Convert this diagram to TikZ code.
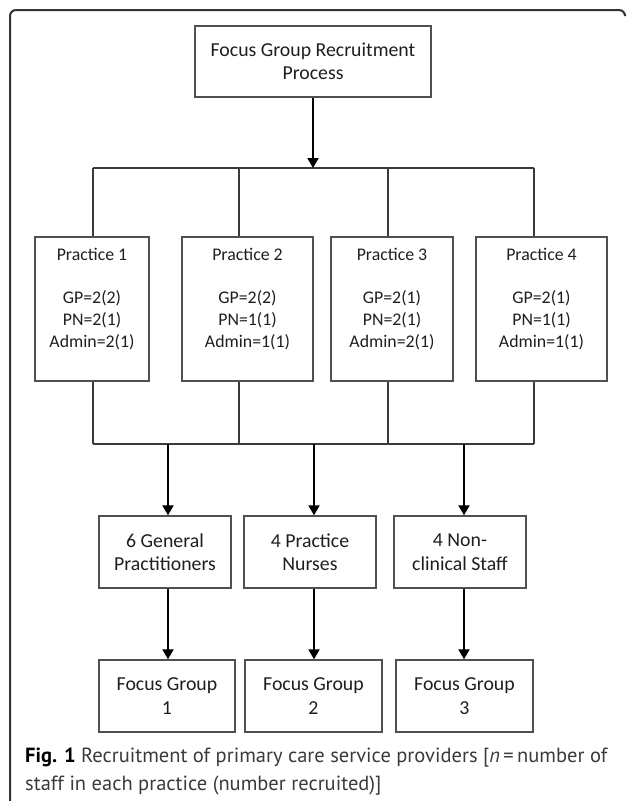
\documentclass[tikz,border=0pt]{standalone}
\usepackage{fontspec}
\setmainfont{Carlito}
\newfontfamily\capfont{PT Sans}
\usetikzlibrary{arrows.meta}
\definecolor{boxline}{HTML}{505050}
\definecolor{busline}{HTML}{3a3a3a}
\definecolor{txt}{HTML}{1e1e1e}
\definecolor{framec}{HTML}{333333}
\definecolor{captxt}{HTML}{3a3a3a}
\begin{document}
\begin{tikzpicture}[x=1pt,y=-1pt,
  box/.style={draw=boxline, line width=1.4pt, inner sep=0pt, align=center, text=txt},
  bigtxt/.style={font=\fontsize{19.8}{23.5}\selectfont},
  prtxt/.style={font=\fontsize{17.8}{21.7}\selectfont, align=center, text=txt, inner sep=0pt},
  bus/.style={draw=busline, line width=1.3pt},
  arr/.style={draw=black, line width=2pt, -{Triangle[length=10pt,width=11pt]}},
  capstyle/.style={font=\capfont\fontsize{20.5}{24}\selectfont, text=captxt, inner sep=0pt, anchor=west}]
\useasboundingbox (0,0) rectangle (627,801);
% frame
\draw[framec, line width=2pt, rounded corners=6pt] (10,805) -- (10,10) -- (625,10) -- (625,14);
% top box
\node[box, bigtxt, minimum width=236pt, minimum height=71pt] (top) at (313,61.5) {Focus Group Recruitment\\Process};
% practice boxes
\node[box, minimum width=114pt, minimum height=144pt] (P1) at (92,309) {};
\node[box, minimum width=131pt, minimum height=144pt] (P2) at (247.5,309) {};
\node[box, minimum width=122pt, minimum height=144pt] (P3) at (392,309) {};
\node[box, minimum width=131pt, minimum height=144pt] (P4) at (541.5,309) {};
\node[prtxt] (T1) at ([yshift=10pt]P1.center) {Practice 1\\[21.7pt]GP=2(2)\\PN=2(1)\\Admin=2(1)};
\node[prtxt] (T2) at ([yshift=10pt]P2.center) {Practice 2\\[21.7pt]GP=2(2)\\PN=1(1)\\Admin=1(1)};
\node[prtxt] (T3) at ([yshift=10pt]P3.center) {Practice 3\\[21.7pt]GP=2(1)\\PN=2(1)\\Admin=2(1)};
\node[prtxt] (T4) at ([yshift=10pt]P4.center) {Practice 4\\[21.7pt]GP=2(1)\\PN=1(1)\\Admin=1(1)};
% middle boxes
\node[box, bigtxt, minimum width=132pt, minimum height=72pt] (B1) at (165,552) {6 General\\Practitioners};
\node[box, bigtxt, minimum width=132pt, minimum height=72pt] (B2) at (310,552) {4 Practice\\Nurses};
\node[box, bigtxt, minimum width=132pt, minimum height=72pt] (B3) at (460,552) {4 Non-\\clinical Staff};
% bottom boxes
\node[box, bigtxt, minimum width=136pt, minimum height=72pt] (F1) at (167,696) {Focus Group\\1};
\node[box, bigtxt, minimum width=137pt, minimum height=72pt] (F2) at (313.5,696) {Focus Group\\2};
\node[box, bigtxt, minimum width=137pt, minimum height=72pt] (F3) at (464.5,696) {Focus Group\\3};
% coordinates
\coordinate (hub) at (313,168);
\coordinate (u1) at (93,168);
\coordinate (u2) at (239,168);
\coordinate (u3) at (388,168);
\coordinate (u4) at (534,168);
\coordinate (l1) at (93,444);
\coordinate (l2) at (239,444);
\coordinate (l3) at (388,444);
\coordinate (l4) at (534,444);
\coordinate (d1) at (168,444);
\coordinate (d2) at (314,444);
\coordinate (d3) at (464,444);
% upper distribution
\draw[bus] (u1) -- (u4);
\draw[bus] (u1) -- (u1 |- P1.north);
\draw[bus] (u2) -- (u2 |- P2.north);
\draw[bus] (u3) -- (u3 |- P3.north);
\draw[bus] (u4) -- (u4 |- P4.north);
\draw[arr] (top.south) -- (hub);
% lower collection
\draw[bus] (l1) -- (l4);
\draw[bus] (l1 |- P1.south) -- (l1);
\draw[bus] (l2 |- P2.south) -- (l2);
\draw[bus] (l3 |- P3.south) -- (l3);
\draw[bus] (l4 |- P4.south) -- (l4);
\draw[arr] (d1) -- (d1 |- B1.north);
\draw[arr] (d2) -- (d2 |- B2.north);
\draw[arr] (d3) -- (d3 |- B3.north);
\draw[arr] (d1 |- B1.south) -- (d1 |- F1.north);
\draw[arr] (d2 |- B2.south) -- (d2 |- F2.north);
\draw[arr] (d3 |- B3.south) -- (d3 |- F3.north);
% caption
\node[capstyle] (cap1) at (25,758) {{\color{black}\textbf{Fig. 1}} Recruitment of primary care service providers [\textit{n}\,=\,number of};
\node[capstyle] (cap2) at (25,786) {staff in each practice (number recruited)]};
\end{tikzpicture}
\end{document}
